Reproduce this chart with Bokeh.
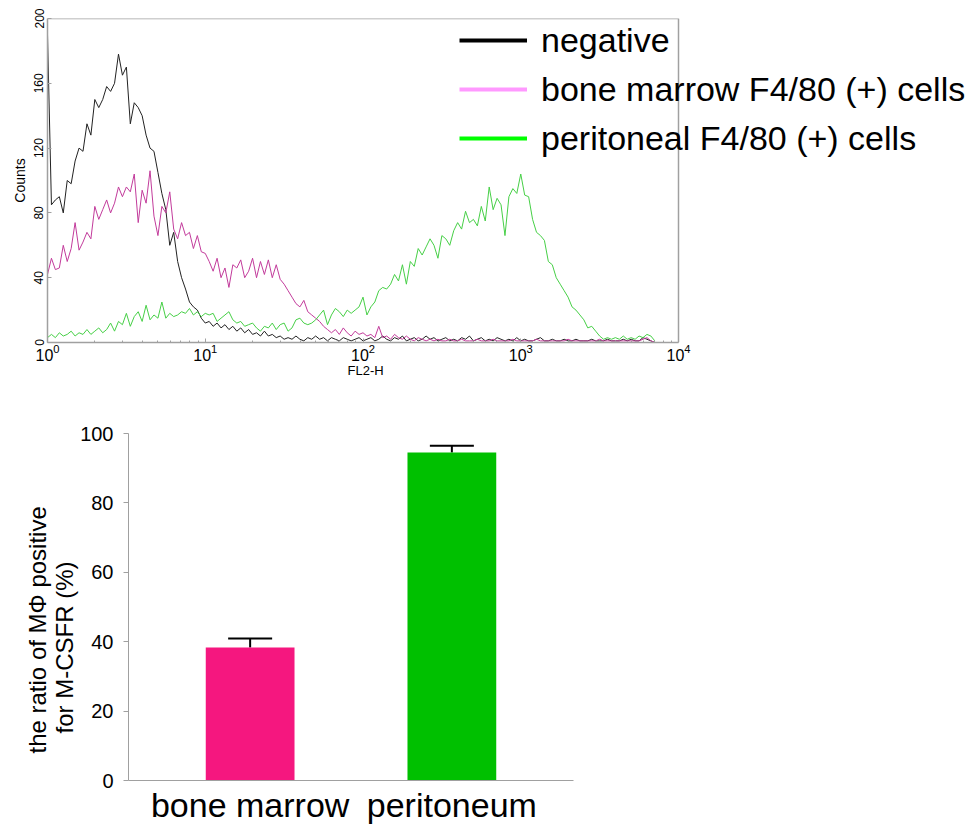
import numpy as np
from bokeh.plotting import figure
from bokeh.models import (Range1d, FactorRange, FixedTicker, Legend, LegendItem,
                          Whisker, ColumnDataSource, TeeHead, Title)
from bokeh.layouts import column
from bokeh.embed import file_html
from bokeh.resources import INLINE

# ---------------- data: flow cytometry histogram (FL2-H, 40 channels per decade) ----------------
CHANNELS_PER_DECADE = 40
negative = [190, 85, 88, 90, 80, 100, 98, 112, 120, 118, 135, 128, 150, 145, 150, 158, 155, 160, 178, 165,
            170, 135, 148, 145, 140, 128, 120, 118, 105, 92, 82, 60, 68, 50, 40, 33, 25, 22, 20, 15, 12,
            13, 10, 12, 9, 11, 8, 10, 7, 9, 6, 8, 5, 6, 4, 7, 4, 5, 3, 4, 2, 3, 2, 4, 2, 1, 3, 2, 4, 2, 3,
            1, 3, 2, 1, 3, 2, 1, 2, 3, 1,
            2, 3, 1, 2, 4, 2, 1, 3, 2, 4, 1, 2, 3, 1, 2, 4, 2, 3, 1, 2, 3, 1, 2, 1, 3, 2, 4, 1, 2, 3,
            1, 2, 1, 3, 2, 1, 2, 1, 3, 1, 2, 1, 1, 2, 3, 1, 1, 2, 1, 1, 2, 1, 1, 2, 1, 1, 1, 2, 1, 1,
            1, 2, 1, 1, 1, 2, 1, 2, 1, 1, 3, 2, 1, 0]
bone_marrow_hist = [42, 52, 45, 46, 60, 50, 58, 74, 57, 62, 68, 64, 84, 76, 82, 88, 80, 86, 96, 90,
                    96, 93, 104, 74, 94, 86, 106, 78, 66, 84, 80, 93, 70, 64, 74, 66, 68, 58, 66, 56, 55,
                    50, 44, 52, 40, 46, 34, 48, 46, 51, 40, 44, 52, 40, 50, 42, 51, 40, 48, 39, 36, 32, 28,
                    24, 22, 26, 19, 17, 15, 13, 10, 8, 6, 8, 5, 9, 6, 4, 7, 5, 6,
                    4, 5, 3, 10, 3, 4, 2, 5, 3, 2, 4, 2, 1, 3, 2, 1, 2, 1, 2, 1, 1, 2, 1, 1, 2, 1, 1, 1, 2, 1,
                    1, 1, 2, 1, 1, 1, 1, 2, 1, 1, 1, 1, 1, 2, 1, 1, 1, 1, 1, 1, 1, 2, 1, 1, 1, 1, 1, 1, 1, 2,
                    1, 1, 1, 1, 1, 1, 1, 1, 1, 1, 2, 3, 1, 0]
peritoneal_hist = [3, 5, 3, 6, 4, 5, 7, 4, 6, 5, 8, 5, 7, 9, 6, 8, 12, 7, 13, 11,
                   18, 10, 16, 19, 13, 23, 14, 17, 15, 25, 15, 18, 16, 17, 19, 18, 21, 17, 19, 16,
                   18, 17, 18, 13, 15, 17, 19, 14,
                   12, 13, 10, 11, 12, 9, 7, 10, 9, 12, 8, 11, 12, 7, 9, 14, 15, 12, 11, 12,
                   14, 17, 20, 11, 17, 21, 19, 16, 20, 18, 20, 22, 28, 17, 22, 25, 32, 34, 33, 36,
                   42, 38, 48, 36, 50, 47, 58, 54, 59, 64, 60, 52, 66, 64, 60, 69, 74,
                   70, 81, 74, 76, 72, 84, 75, 96, 82, 89, 85, 66, 90, 95, 92, 104, 91, 90, 76, 68,
                   66, 63, 50, 48, 40, 36, 32, 28, 22, 20, 17, 14, 9, 10, 7, 4, 2, 3, 2, 3,
                   2, 4, 2, 3, 2, 4, 3, 5, 4, 1]
hist_labels = ["negative", "bone marrow F4/80 (+) cells", "peritoneal F4/80 (+) cells"]
count_ticks = [0, 40, 80, 120, 160, 200]
fl2_ticks = [1, 10, 100, 1000, 10000]

# ---------------- data: bar chart ----------------
groups = ["bone marrow", "peritoneum"]
ratio_pct = [38.3, 94.5]
ratio_err = [2.6, 2.0]
pct_ticks = [0, 20, 40, 60, 80, 100]

FONT = "Liberation Sans"
GRAY = "#a0a0a0"

# ---------------- top: histogram ----------------
fl2 = [10 ** (i / CHANNELS_PER_DECADE) for i in range(len(negative))]
series_list = [negative, bone_marrow_hist, peritoneal_hist]

# the frame is widened to the right so the legend (which overlaps the plot box) is not clipped;
# the visible box / axis stop at 10^4 as in the reference
P1_W = 975
LEFT1 = 47
BOX_W = 631                 # px width of the 4 decades
FRAME_W = P1_W - LEFT1      # px width of the frame
x_end = 10 ** (np.log10(fl2_ticks[-1]) * FRAME_W / BOX_W)

p1 = figure(width=P1_W, height=380, x_axis_type="log",
            x_range=Range1d(fl2_ticks[0], x_end), y_range=Range1d(count_ticks[0], count_ticks[-1]),
            output_backend="svg", toolbar_location=None,
            min_border_left=LEFT1, min_border_right=0, min_border_top=18, min_border_bottom=38)
if "frame_align" in p1.properties():
    p1.frame_align = False
p1.grid.visible = False
p1.outline_line_color = None
p1.background_fill_color = "white"
p1.border_fill_color = "white"

# top and right edges of the plot box
p1.line(x=[fl2_ticks[0], fl2_ticks[-1], fl2_ticks[-1]],
        y=[count_ticks[-1], count_ticks[-1], count_ticks[0]],
        line_color=GRAY, line_width=1.5)

line_colors = ["#222222", "#c23b9b", "#46cf46"]
legend_colors = ["#000000", "#ff99ff", "#00ff00"]
for series, col in zip(series_list, line_colors):
    p1.line(fl2, series, line_color=col, line_width=1)

items = []
for lab, col, series in zip(hist_labels, legend_colors, series_list):
    # one-point line: draws nothing in the plot, only provides the thick legend swatch
    r = p1.line(x=[fl2[0]], y=[series[0]], line_color=col, line_width=4)
    items.append(LegendItem(label=lab, renderers=[r]))
legend = Legend(items=items, location=(412, 184), orientation="vertical",
                label_text_font=FONT, label_text_font_size="34px", label_text_color="black",
                glyph_width=68, glyph_height=40, label_height=40, label_standoff=14,
                spacing=9, padding=0, margin=0,
                border_line_alpha=0, background_fill_alpha=0)
p1.add_layout(legend)

p1.xaxis.ticker = FixedTicker(ticks=fl2_ticks,
                              minor_ticks=[m * 10 ** d for d in range(4) for m in range(2, 10)])
p1.xaxis.bounds = (fl2_ticks[0], fl2_ticks[-1])
p1.yaxis.ticker = FixedTicker(ticks=count_ticks)
p1.yaxis.axis_label = "Counts"
for ax in (p1.xaxis, p1.yaxis):
    ax.axis_line_color = GRAY
    ax.axis_line_width = 1.5
    ax.major_tick_line_color = GRAY
    ax.minor_tick_line_color = GRAY
    ax.major_tick_in = 4
    ax.major_tick_out = 0
    ax.minor_tick_in = 2
    ax.minor_tick_out = 0
    ax.major_label_text_font = FONT
    ax.major_label_text_color = "black"
    ax.axis_label_text_font = FONT
    ax.axis_label_text_font_style = "normal"
    ax.axis_label_text_color = "black"
p1.xaxis.major_label_text_font_size = "16px"
p1.xaxis.major_label_standoff = 1
p1.yaxis.major_label_text_font_size = "12px"
p1.yaxis.major_label_orientation = "parallel"
p1.yaxis.major_label_standoff = 4
p1.yaxis.axis_label_standoff = 4
p1.yaxis.axis_label_text_font_size = "14px"
# x-axis title placed under the 4-decade box (not the widened frame)
p1.add_layout(Title(text="FL2-H", align="left", offset=300, standoff=-5,
                    text_font=FONT, text_font_size="13px", text_font_style="normal",
                    text_color="black"), "below")

# ---------------- bottom: bar chart ----------------
src = ColumnDataSource(dict(
    group=groups, ratio=ratio_pct,
    upper=[v + e for v, e in zip(ratio_pct, ratio_err)],
    color=["#f5177f", "#00c000"],
))
p2 = figure(width=588, height=446,
            x_range=FactorRange(*groups, range_padding=0.103), y_range=Range1d(0, 100),
            output_backend="svg", toolbar_location=None,
            min_border_left=128, min_border_right=15, min_border_top=53, min_border_bottom=46)
if "frame_align" in p2.properties():
    p2.frame_align = False
p2.grid.visible = False
p2.outline_line_color = None
p2.vbar(x="group", top="ratio", width=0.44, fill_color="color", line_color=None, source=src)
p2.add_layout(Whisker(base="group", upper="upper", lower="ratio", source=src,
                      line_color="black", line_width=2,
                      upper_head=TeeHead(size=44, line_width=2, line_color="black"),
                      lower_head=None))

p2.yaxis.ticker = FixedTicker(ticks=pct_ticks)
p2.yaxis.major_label_text_font = FONT
p2.yaxis.major_label_text_font_size = "20px"
p2.yaxis.major_label_text_color = "black"
p2.yaxis.major_label_standoff = 10
p2.yaxis.major_tick_out = 5
p2.yaxis.major_tick_in = 0
p2.yaxis.minor_tick_line_color = None
p2.yaxis.axis_line_color = GRAY
p2.yaxis.major_tick_line_color = GRAY
# two-line y title (inner line first)
for txt, off, so in [("for M-CSFR (%)", 47, 0), ("the ratio of M\u03a6 positive", 27, -4)]:
    p2.add_layout(Title(text=txt, align="left", offset=off, standoff=so,
                        text_font=FONT, text_font_size="24px", text_font_style="normal",
                        text_color="black"), "left")

p2.xaxis.major_label_text_font = FONT
p2.xaxis.major_label_text_font_size = "34px"
p2.xaxis.major_label_text_color = "black"
p2.xaxis.major_label_standoff = 5
p2.xaxis.major_tick_out = 0
p2.xaxis.major_tick_in = 0
p2.xaxis.axis_line_color = GRAY

layout = column(p1, p2, spacing=0)
open("out.html", "w").write(file_html(layout, INLINE))
